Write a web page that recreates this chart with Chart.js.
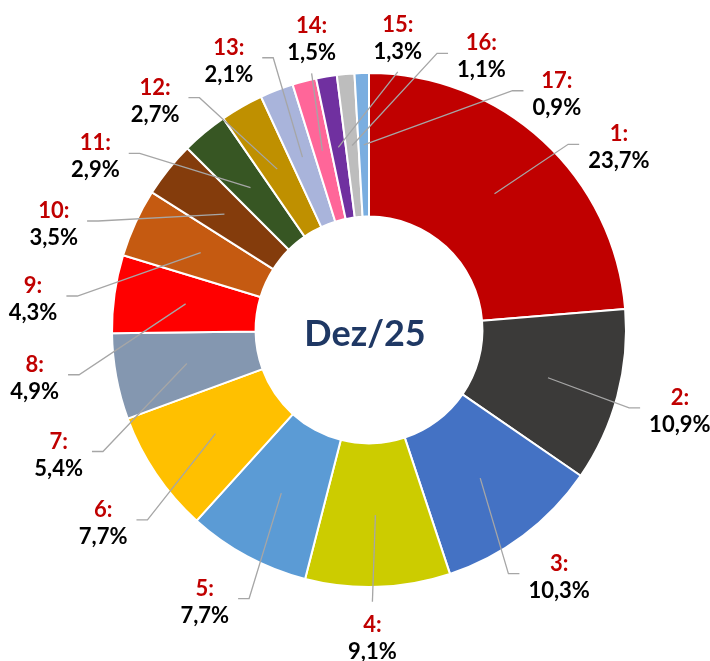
<!DOCTYPE html>
<html>
<head>
<meta charset="utf-8">
<script src="https://cdn.jsdelivr.net/npm/chart.js@4.4.1/dist/chart.umd.min.js"></script>
<style>
  html, body { margin: 0; padding: 0; background: #fff; }
  #wrap { width: 710px; height: 661px; }
</style>
</head>
<body>
<div id="wrap"><canvas id="myChart" width="710" height="661"></canvas></div>
<script>
// data
var labels = ['1', '2', '3', '4', '5', '6', '7', '8', '9', '10', '11', '12', '13', '14', '15', '16', '17'];
var shares = [23.7, 10.9, 10.3, 9.1, 7.7, 7.7, 5.4, 4.9, 4.3, 3.5, 2.9, 2.7, 2.1, 1.5, 1.3, 1.1, 0.9];
var centerTitle = 'Dez/25';

var sliceColors = [
  '#C00000', '#3B3A39', '#4472C4', '#CCCC00', '#5B9BD5', '#FFC000',
  '#8497B0', '#FF0000', '#C55A11', '#843C0C', '#375623', '#BF9000',
  '#A9B4DB', '#FF6699', '#7030A0', '#BDBDBD', '#7AAEE0'
];

function fmt(v) {
  return v.toFixed(1).replace('.', ',') + '%';
}

// spread label angles (deg) so neighbours keep a minimum gap
function spread(mids, gap) {
  var n = mids.length;
  var cut = 0, best = -1;
  for (var i = 0; i < n; i++) {
    var d = mids[(i + 1) % n] - mids[i];
    d = ((d % 360) + 360) % 360;
    if (d > best) { best = d; cut = (i + 1) % n; }
  }
  var order = [], lin = [];
  for (var k = 0; k < n; k++) {
    var idx = (cut + k) % n;
    var a = mids[idx];
    if (k > 0) { while (a < lin[k - 1]) a += 360; }
    order.push(idx);
    lin.push(a);
  }
  for (var it = 0; it < 2000; it++) {
    for (var k2 = 0; k2 < n - 1; k2++) {
      var dd = lin[k2 + 1] - lin[k2];
      if (dd < gap) {
        var p = (gap - dd) / 2;
        lin[k2] -= p;
        lin[k2 + 1] += p;
      }
    }
  }
  var out = [];
  order.forEach(function (idx, k) { out[idx] = lin[k]; });
  return out;
}

// outside labels with leader lines
var calloutPlugin = {
  id: 'callouts',
  afterDatasetsDraw: function (chart) {
    var ctx = chart.ctx;
    var arcs = chart.getDatasetMeta(0).data;
    var cx = arcs[0].x, cy = arcs[0].y;

    var mids = arcs.map(function (a) {
      var m = (a.startAngle + a.endAngle) / 2;
      var deg = m * 180 / Math.PI + 90;
      return ((deg % 360) + 360) % 360;
    });
    var ang = spread(mids, 15);

    var rx = 330, ryTop = 296, ryBottom = 306;
    var ox = cx - 8, oy = cy + 2;

    ctx.save();
    ctx.font = 'bold 22px Lato';
    ctx.textAlign = 'center';
    ctx.textBaseline = 'middle';

    arcs.forEach(function (a, i) {
      var m = (a.startAngle + a.endAngle) / 2;
      var rMid = (a.innerRadius + a.outerRadius) / 2;
      var sx = a.x + Math.cos(m) * rMid;
      var sy = a.y + Math.sin(m) * rMid;

      var t = ang[i] * Math.PI / 180;
      var ry = Math.cos(t) > 0 ? ryTop : ryBottom;
      var lx = ox + Math.sin(t) * rx;
      var ly = oy - Math.cos(t) * ry;

      var top = labels[i] + ':';
      var bottom = fmt(shares[i]);
      var halfW = Math.max(ctx.measureText(top).width, ctx.measureText(bottom).width) / 2;

      ctx.strokeStyle = '#A6A6A6';
      ctx.lineWidth = 1.3;
      ctx.beginPath();
      ctx.moveTo(sx, sy);
      if (Math.abs(Math.sin(t)) < 0.26) {
        var ey = Math.cos(t) > 0 ? ly + 34 : ly - 36;
        ctx.lineTo(lx, ey);
      } else {
        var side = Math.sin(t) > 0 ? 1 : -1;
        var ex = lx - side * (halfW + 9);
        var eyy = ly - 3;
        ctx.lineTo(ex - side * 11, eyy);
        ctx.lineTo(ex, eyy);
      }
      ctx.stroke();

      ctx.fillStyle = '#C00000';
      ctx.fillText(top, lx, ly - 13);
      ctx.fillStyle = '#000000';
      ctx.fillText(bottom, lx, ly + 14);
    });

    ctx.font = 'bold 36px Lato';
    ctx.fillStyle = '#1F3864';
    ctx.fillText(centerTitle, cx - 4, cy + 4);
    ctx.restore();
  }
};

var ctx = document.getElementById('myChart');
var myChart = new Chart(ctx, {
  type: 'doughnut',
  data: {
    labels: labels,
    datasets: [{
      data: shares,
      backgroundColor: sliceColors,
      borderColor: '#FFFFFF',
      borderWidth: 2,
      radius: 257,
      cutout: 113
    }]
  },
  options: {
    responsive: false,
    animation: false,
    layout: { padding: { left: 112, right: 84, top: 73, bottom: 74 } },
    plugins: {
      legend: { display: false },
      tooltip: { enabled: false }
    }
  },
  plugins: [calloutPlugin]
});
</script>
</body>
</html>
